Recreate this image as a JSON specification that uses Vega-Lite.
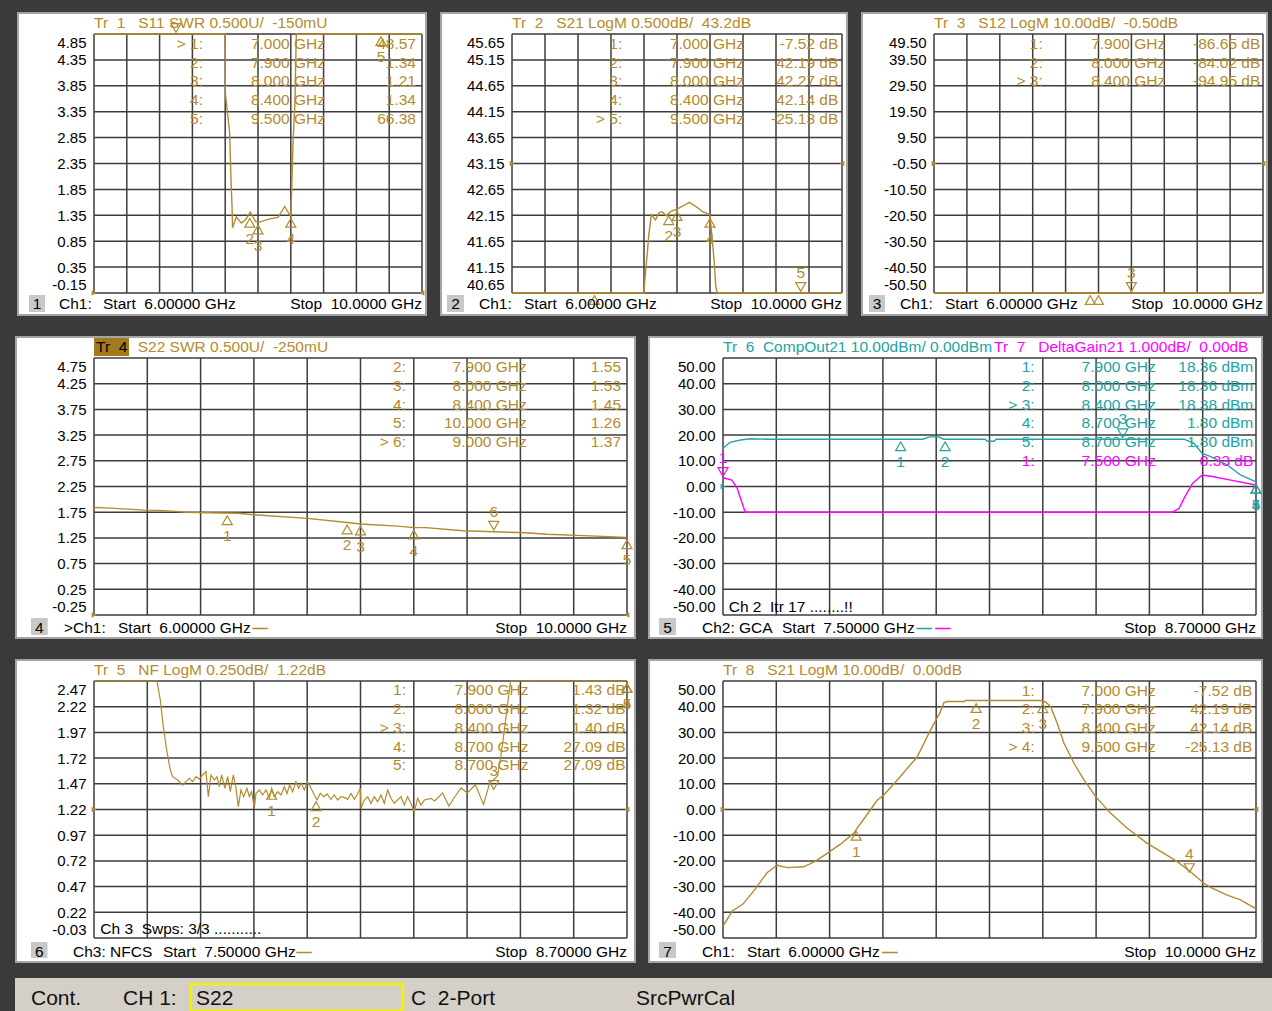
{
"$schema": "https://vega.github.io/schema/vega-lite/v6.json",
"background": "#3a3a3a",
"padding": {"left": 14, "top": 12, "right": 1, "bottom": 0},
"config": {
 "view": {"stroke": null},
 "font": "Liberation Sans",
 "axisX": {"disable": true},
 "axisY": {"grid": false, "ticks": false, "domain": false, "labelFlush": true, "labelFlushOffset": -1, "labelPadding": 8, "labelOverlap": false, "labelFontSize": 15, "labelColor": "#000000", "labelFont": "Liberation Sans"},
 "text": {"font": "Liberation Sans", "fontSize": 15.5, "color": "#000000"},
 "line": {"strokeWidth": 1.4},
 "rule": {"color": "#3d3d3d", "strokeWidth": 1.5}
},
"datasets": {
 "gxw": [{"g":6},{"g":6.4},{"g":6.8},{"g":7.2},{"g":7.6},{"g":8},{"g":8.4},{"g":8.8},{"g":9.2},{"g":9.6},{"g":10}],
 "gxn": [{"g":7.5},{"g":7.62},{"g":7.74},{"g":7.86},{"g":7.98},{"g":8.1},{"g":8.22},{"g":8.34},{"g":8.46},{"g":8.58},{"g":8.7}],
 "gy1": [{"g":-0.15},{"g":0.35},{"g":0.85},{"g":1.35},{"g":1.85},{"g":2.35},{"g":2.85},{"g":3.35},{"g":3.85},{"g":4.35},{"g":4.85}],
 "gy2": [{"g":40.65},{"g":41.15},{"g":41.65},{"g":42.15},{"g":42.65},{"g":43.15},{"g":43.65},{"g":44.15},{"g":44.65},{"g":45.15},{"g":45.65}],
 "gy3": [{"g":-50.5},{"g":-40.5},{"g":-30.5},{"g":-20.5},{"g":-10.5},{"g":-0.5},{"g":9.5},{"g":19.5},{"g":29.5},{"g":39.5},{"g":49.5}],
 "gy4": [{"g":-0.25},{"g":0.25},{"g":0.75},{"g":1.25},{"g":1.75},{"g":2.25},{"g":2.75},{"g":3.25},{"g":3.75},{"g":4.25},{"g":4.75}],
 "gy50": [{"g":-50},{"g":-40},{"g":-30},{"g":-20},{"g":-10},{"g":0},{"g":10},{"g":20},{"g":30},{"g":40},{"g":50}],
 "gy6": [{"g":-0.03},{"g":0.22},{"g":0.47},{"g":0.72},{"g":0.97},{"g":1.22},{"g":1.47},{"g":1.72},{"g":1.97},{"g":2.22},{"g":2.47}],
 "t1": [{"f":6.0,"v":4.85},{"f":7.6,"v":4.85},{"f":7.602,"v":3.71},{"f":7.655,"v":2.93},{"f":7.667,"v":2.22},{"f":7.684,"v":1.49},{"f":7.69,"v":1.11},{"f":7.736,"v":1.32},{"f":7.797,"v":1.2},{"f":7.85,"v":1.27},{"f":7.906,"v":1.41},{"f":7.97,"v":1.23},{"f":8.0,"v":1.21},{"f":8.143,"v":1.28},{"f":8.244,"v":1.31},{"f":8.325,"v":1.52},{"f":8.386,"v":1.36},{"f":8.4,"v":1.34},{"f":8.41,"v":1.81},{"f":8.427,"v":2.74},{"f":8.45,"v":3.51},{"f":8.467,"v":4.83},{"f":8.47,"v":4.85},{"f":10.0,"v":4.85}],
 "t2": [{"f":6.0,"v":40.65},{"f":7.6,"v":40.65},{"f":7.61,"v":40.9},{"f":7.64,"v":41.42},{"f":7.66,"v":41.8},{"f":7.69,"v":42.16},{"f":7.74,"v":42.06},{"f":7.78,"v":42.2},{"f":7.82,"v":42.22},{"f":7.87,"v":42.14},{"f":7.92,"v":42.22},{"f":8.0,"v":42.27},{"f":8.06,"v":42.32},{"f":8.15,"v":42.4},{"f":8.23,"v":42.32},{"f":8.31,"v":42.22},{"f":8.39,"v":42.17},{"f":8.4,"v":42.14},{"f":8.42,"v":41.8},{"f":8.45,"v":41.28},{"f":8.47,"v":40.77},{"f":8.49,"v":40.65},{"f":10.0,"v":40.65}],
 "t3": [{"f":6.0,"v":-50.5},{"f":10.0,"v":-50.5}],
 "t4": [{"f":6.0,"v":1.84},{"f":6.13,"v":1.83},{"f":6.38,"v":1.79},{"f":6.53,"v":1.78},{"f":6.7,"v":1.75},{"f":6.85,"v":1.74},{"f":7.08,"v":1.73},{"f":7.2,"v":1.7},{"f":7.6,"v":1.63},{"f":7.9,"v":1.55},{"f":8.0,"v":1.52},{"f":8.28,"v":1.48},{"f":8.4,"v":1.45},{"f":8.49,"v":1.45},{"f":8.77,"v":1.39},{"f":9.0,"v":1.37},{"f":9.24,"v":1.35},{"f":9.4,"v":1.32},{"f":9.72,"v":1.29},{"f":10.0,"v":1.26}],
 "t5a": [{"f":7.5,"v":14.9},{"f":7.516,"v":17.2},{"f":7.539,"v":18.1},{"f":7.561,"v":18.6},{"f":7.6,"v":18.4},{"f":7.95,"v":18.4},{"f":7.965,"v":19.3},{"f":7.985,"v":19.3},{"f":7.997,"v":18.4},{"f":8.09,"v":18.4},{"f":8.095,"v":17.6},{"f":8.11,"v":17.6},{"f":8.115,"v":18.4},{"f":8.538,"v":18.4},{"f":8.56,"v":16.8},{"f":8.579,"v":12.9},{"f":8.598,"v":11.6},{"f":8.635,"v":8.4},{"f":8.665,"v":4.5},{"f":8.7,"v":1.8}],
 "t5b": [{"f":7.5,"v":3.4},{"f":7.52,"v":2.5},{"f":7.532,"v":-0.7},{"f":7.55,"v":-10},{"f":8.512,"v":-10},{"f":8.527,"v":-8.5},{"f":8.538,"v":-4.6},{"f":8.557,"v":1.2},{"f":8.579,"v":4.5},{"f":8.605,"v":3.8},{"f":8.643,"v":2.5},{"f":8.7,"v":0.6}],
 "t6": [{"f":7.5,"v":2.47},{"f":7.6418,"v":2.47},{"f":7.6493,"v":2.285},{"f":7.6561,"v":2.026},{"f":7.6636,"v":1.799},{"f":7.6718,"v":1.604},{"f":7.6771,"v":1.539},{"f":7.6884,"v":1.507},{"f":7.6996,"v":1.458},{"f":7.7071,"v":1.491},{"f":7.7146,"v":1.523},{"f":7.7221,"v":1.491},{"f":7.7296,"v":1.539},{"f":7.7371,"v":1.514},{"f":7.7446,"v":1.556},{"f":7.7521,"v":1.588},{"f":7.7574,"v":1.345},{"f":7.7634,"v":1.556},{"f":7.7709,"v":1.507},{"f":7.7769,"v":1.539},{"f":7.7822,"v":1.442},{"f":7.7874,"v":1.556},{"f":7.7949,"v":1.426},{"f":7.8009,"v":1.539},{"f":7.8069,"v":1.393},{"f":7.8137,"v":1.556},{"f":7.8197,"v":1.426},{"f":7.8249,"v":1.248},{"f":7.8309,"v":1.41},{"f":7.8369,"v":1.345},{"f":7.8444,"v":1.426},{"f":7.8497,"v":1.345},{"f":7.8549,"v":1.393},{"f":7.8609,"v":1.231},{"f":7.8647,"v":1.377},{"f":7.8722,"v":1.41},{"f":7.8797,"v":1.361},{"f":7.8872,"v":1.41},{"f":7.8947,"v":1.329},{"f":7.9,"v":1.426},{"f":7.906,"v":1.345},{"f":7.9135,"v":1.393},{"f":7.921,"v":1.361},{"f":7.9285,"v":1.442},{"f":7.9345,"v":1.377},{"f":7.9405,"v":1.458},{"f":7.9472,"v":1.393},{"f":7.9547,"v":1.491},{"f":7.9607,"v":1.426},{"f":7.966,"v":1.475},{"f":7.9735,"v":1.41},{"f":7.981,"v":1.491},{"f":7.9885,"v":1.426},{"f":7.996,"v":1.361},{"f":8.002,"v":1.312},{"f":8.0095,"v":1.377},{"f":8.017,"v":1.345},{"f":8.0245,"v":1.371},{"f":8.0335,"v":1.319},{"f":8.041,"v":1.361},{"f":8.0486,"v":1.312},{"f":8.0561,"v":1.345},{"f":8.0636,"v":1.338},{"f":8.0711,"v":1.319},{"f":8.0786,"v":1.377},{"f":8.0861,"v":1.319},{"f":8.0921,"v":1.361},{"f":8.0996,"v":1.426},{"f":8.1011,"v":1.231},{"f":8.1086,"v":1.312},{"f":8.1161,"v":1.345},{"f":8.1236,"v":1.28},{"f":8.1311,"v":1.345},{"f":8.1386,"v":1.296},{"f":8.1461,"v":1.361},{"f":8.1536,"v":1.28},{"f":8.1611,"v":1.41},{"f":8.1686,"v":1.329},{"f":8.1761,"v":1.28},{"f":8.1836,"v":1.312},{"f":8.1911,"v":1.345},{"f":8.1986,"v":1.264},{"f":8.2061,"v":1.345},{"f":8.2136,"v":1.28},{"f":8.2211,"v":1.199},{"f":8.2287,"v":1.329},{"f":8.2362,"v":1.264},{"f":8.2437,"v":1.312},{"f":8.2587,"v":1.329},{"f":8.2666,"v":1.303},{"f":8.285,"v":1.381},{"f":8.299,"v":1.253},{"f":8.313,"v":1.349},{"f":8.3265,"v":1.43},{"f":8.3404,"v":1.381},{"f":8.3587,"v":1.46},{"f":8.377,"v":1.27},{"f":8.391,"v":1.48},{"f":8.4,"v":1.51},{"f":8.409,"v":1.55},{"f":8.418,"v":1.8},{"f":8.428,"v":2.13},{"f":8.437,"v":2.45},{"f":8.439,"v":2.47},{"f":8.7,"v":2.47}],
 "t7": [{"f":6.0,"v":-45.4},{"f":6.07,"v":-39.5},{"f":6.148,"v":-36.9},{"f":6.24,"v":-31.1},{"f":6.33,"v":-24.6},{"f":6.407,"v":-21.7},{"f":6.483,"v":-22.6},{"f":6.606,"v":-22.3},{"f":6.698,"v":-20.0},{"f":6.79,"v":-16.8},{"f":6.881,"v":-13.5},{"f":6.98,"v":-9.3},{"f":7.003,"v":-7.5},{"f":7.11,"v":0.1},{"f":7.158,"v":3.7},{"f":7.2,"v":5.3},{"f":7.308,"v":11.5},{"f":7.458,"v":20.5},{"f":7.553,"v":30.5},{"f":7.63,"v":37.9},{"f":7.659,"v":41.6},{"f":7.683,"v":42.0},{"f":7.81,"v":42.0},{"f":7.82,"v":42.4},{"f":8.39,"v":42.4},{"f":8.421,"v":41.9},{"f":8.459,"v":40.0},{"f":8.509,"v":33.5},{"f":8.559,"v":25.8},{"f":8.634,"v":18.0},{"f":8.709,"v":11.5},{"f":8.797,"v":5.0},{"f":8.91,"v":-1.5},{"f":9.034,"v":-7.3},{"f":9.184,"v":-13.2},{"f":9.309,"v":-17.1},{"f":9.409,"v":-20.3},{"f":9.509,"v":-24.2},{"f":9.609,"v":-28.7},{"f":9.659,"v":-30.3},{"f":9.784,"v":-33.3},{"f":9.884,"v":-35.2},{"f":9.99,"v":-38.4},{"f":10.0,"v":-38.8}],
 "r1": [{"f":6,"v":-0.15,"s":"L"},{"f":10,"v":-0.15,"s":"R"}],
 "r2": [{"f":6,"v":43.15,"s":"L"},{"f":10,"v":43.15,"s":"R"}],
 "r3": [{"f":6,"v":-0.5,"s":"L"},{"f":10,"v":-0.5,"s":"R"}],
 "r4": [{"f":6,"v":-0.25,"s":"L"},{"f":10,"v":-0.25,"s":"R"}],
 "r5": [{"f":7.5,"v":0,"s":"L"}],
 "r6": [{"f":7.5,"v":1.22,"s":"L"},{"f":8.7,"v":1.22,"s":"R"}],
 "r7": [{"f":6,"v":0,"s":"L"},{"f":10,"v":0,"s":"R"}],
 "m1": [{"f":7.0,"v":4.85,"n":"","d":"d"},{"f":7.9,"v":1.34,"n":"2","d":"u"},{"f":8.0,"v":1.21,"n":"3","d":"u"},{"f":8.4,"v":1.34,"n":"4","d":"u"},{"f":9.5,"v":4.85,"n":"5","d":"u"}],
 "m2": [{"f":7.0,"v":40.65,"n":"","d":"u"},{"f":7.9,"v":42.19,"n":"2","d":"u"},{"f":8.0,"v":42.27,"n":"3","d":"u"},{"f":8.4,"v":42.14,"n":"4","d":"u"},{"f":9.5,"v":40.65,"n":"5","d":"d"}],
 "m3": [{"f":7.9,"v":-50.5,"n":"","d":"u"},{"f":8.0,"v":-50.5,"n":"","d":"u"},{"f":8.4,"v":-50.5,"n":"3","d":"d"}],
 "m4": [{"f":7.0,"v":1.73,"n":"1","d":"u"},{"f":7.9,"v":1.55,"n":"2","d":"u"},{"f":8.0,"v":1.53,"n":"3","d":"u"},{"f":8.4,"v":1.45,"n":"4","d":"u"},{"f":10.0,"v":1.26,"n":"5","d":"u"},{"f":9.0,"v":1.37,"n":"6","d":"d"}],
 "m5": [{"f":7.9,"v":18.36,"n":"1","d":"u"},{"f":8.0,"v":18.36,"n":"2","d":"u"},{"f":8.4,"v":18.38,"n":"3","d":"d"},{"f":8.7,"v":1.8,"n":"4","d":"u"},{"f":8.7,"v":1.8,"n":"5","d":"u"}],
 "m5b": [{"f":7.5,"v":3.3,"n":"1","d":"d"}],
 "m6": [{"f":7.9,"v":1.43,"n":"1","d":"u"},{"f":8.0,"v":1.32,"n":"2","d":"u"},{"f":8.4,"v":1.4,"n":"3","d":"d"},{"f":8.7,"v":2.47,"n":"4","d":"u"},{"f":8.7,"v":2.47,"n":"5","d":"u"}],
 "m7": [{"f":7.0,"v":-7.52,"n":"1","d":"u"},{"f":7.9,"v":42.19,"n":"2","d":"u"},{"f":8.4,"v":42.14,"n":"3","d":"u"},{"f":9.5,"v":-25.13,"n":"4","d":"d"}],
 "tb1": [{"c1":"> 1:\n2:\n3:\n4:\n5:","c2":"7.000 GHz\n7.900 GHz\n8.000 GHz\n8.400 GHz\n9.500 GHz","c3":"48.57\n1.34\n1.21\n1.34\n66.38"}],
 "tb2": [{"c1":"1:\n2:\n3:\n4:\n> 5:","c2":"7.000 GHz\n7.900 GHz\n8.000 GHz\n8.400 GHz\n9.500 GHz","c3":"-7.52 dB\n42.19 dB\n42.27 dB\n42.14 dB\n-25.13 dB"}],
 "tb3": [{"c1":"1:\n2:\n> 3:","c2":"7.900 GHz\n8.000 GHz\n8.400 GHz","c3":"-86.65 dB\n-84.02 dB\n-94.95 dB"}],
 "tb4": [{"c1":"2:\n3:\n4:\n5:\n> 6:","c2":"7.900 GHz\n8.000 GHz\n8.400 GHz\n10.000 GHz\n9.000 GHz","c3":"1.55\n1.53\n1.45\n1.26\n1.37"}],
 "tb5a": [{"c1":"1:\n2:\n> 3:\n4:\n5:","c2":"7.900 GHz\n8.000 GHz\n8.400 GHz\n8.700 GHz\n8.700 GHz","c3":"18.36 dBm\n18.36 dBm\n18.38 dBm\n1.80 dBm\n1.80 dBm"}],
 "tb5b": [{"c1":"1:","c2":"7.500 GHz","c3":"0.33 dB"}],
 "tb6": [{"c1":"1:\n2:\n> 3:\n4:\n5:","c2":"7.900 GHz\n8.000 GHz\n8.400 GHz\n8.700 GHz\n8.700 GHz","c3":"1.43 dB\n1.32 dB\n1.40 dB\n27.09 dB\n27.09 dB"}],
 "tb7": [{"c1":"1:\n2:\n3:\n> 4:","c2":"7.000 GHz\n7.900 GHz\n8.400 GHz\n9.500 GHz","c3":"-7.52 dB\n42.19 dB\n42.14 dB\n-25.13 dB"}],
 "i1": [{"title":"Tr\u00a0 1\u00a0\u00a0 S11 SWR 0.500U/\u00a0 -150mU","badge":"1","ch":"Ch1:","start":"Start\u00a0 6.00000 GHz","stop":"Stop\u00a0 10.0000 GHz"}],
 "i2": [{"title":"Tr\u00a0 2\u00a0\u00a0 S21 LogM 0.500dB/\u00a0 43.2dB","badge":"2","ch":"Ch1:","start":"Start\u00a0 6.00000 GHz","stop":"Stop\u00a0 10.0000 GHz"}],
 "i3": [{"title":"Tr\u00a0 3\u00a0\u00a0 S12 LogM 10.00dB/\u00a0 -0.50dB","badge":"3","ch":"Ch1:","start":"Start\u00a0 6.00000 GHz","stop":"Stop\u00a0 10.0000 GHz"}],
 "i4": [{"tr":"Tr\u00a0 4","title":"S22 SWR 0.500U/\u00a0 -250mU","badge":"4","ch":">Ch1:","start":"Start\u00a0 6.00000 GHz","dash":"\u2014","stop":"Stop\u00a0 10.0000 GHz"}],
 "i5": [{"title":"Tr\u00a0 6\u00a0 CompOut21 10.00dBm/ 0.00dBm","title2":"Tr\u00a0 7\u00a0\u00a0 DeltaGain21 1.000dB/\u00a0 0.00dB","badge":"5","ch":"Ch2: GCA","start":"Start\u00a0 7.50000 GHz","dash":"\u2014","stop":"Stop\u00a0 8.70000 GHz","note":"Ch 2\u00a0 Itr 17 ........!!"}],
 "i6": [{"title":"Tr\u00a0 5\u00a0\u00a0 NF LogM 0.250dB/\u00a0 1.22dB","badge":"6","ch":"Ch3: NFCS","start":"Start\u00a0 7.50000 GHz","dash":"\u2014","stop":"Stop\u00a0 8.70000 GHz","note":"Ch 3\u00a0 Swps: 3/3 ..........."}],
 "i7": [{"title":"Tr\u00a0 8\u00a0\u00a0 S21 LogM 10.00dB/\u00a0 0.00dB","badge":"7","ch":"Ch1:","start":"Start\u00a0 6.00000 GHz","dash":"\u2014","stop":"Stop\u00a0 10.0000 GHz"}],
 "st": [{"a":"Cont.","b":"CH 1:","c":"S22","d":"C\u00a0 2-Port","e":"SrcPwrCal"}]
},
"spacing": 20,
"vconcat": [
{"spacing": 11, "hconcat": [
 {"width": 328, "height": 259, "layer": [
  {"data":{"values":[{}]},"mark":{"type":"rect","color":"#ffffff","stroke":"#a4a4a4","strokeWidth":2},"encoding":{"x":{"datum":5.0732,"type":"quantitative","scale":{"domain":[6,10],"nice":false,"zero":false}},"x2":{"datum":10.0488},"y":{"datum":5.2554,"type":"quantitative","scale":{"domain":[-0.15,4.85],"nice":false,"zero":false},"axis":{"title":null,"zindex":1,"tickCount":30,"labelOverlap":false,"values":[-0.15,0.35,0.85,1.35,1.85,2.35,2.85,3.35,3.85,4.35,4.85],"labelExpr":"replace(format(datum.value,'.2f'),'\u2212','-')"}},"y2":{"datum":-0.5747}}},
  {"data":{"name":"gxw"},"mark":"rule","encoding":{"x":{"field":"g","type":"quantitative","title":null}}},
  {"data":{"name":"gy1"},"mark":"rule","encoding":{"y":{"field":"g","type":"quantitative","title":null}}},
  {"data":{"name":"t1"},"mark":{"type":"line","color":"#b38b2d"},"encoding":{"x":{"field":"f","type":"quantitative","title":null},"y":{"field":"v","type":"quantitative","title":null}}},
  {"data":{"name":"r1"},"mark":{"type":"point","filled":true,"size":30,"opacity":1,"color":"#b38b2d"},"encoding":{"x":{"field":"f","type":"quantitative","title":null},"y":{"field":"v","type":"quantitative","title":null},"shape":{"field":"s","type":"nominal","scale":{"domain":["L","R"],"range":["triangle-right","triangle-left"]},"legend":null}}},
  {"data":{"name":"m1"},"transform":[{"filter":"datum.d == 'u'"}],"mark":{"type":"point","shape":"triangle-up","filled":false,"size":100,"strokeWidth":1.2,"opacity":1,"color":"#b38b2d","yOffset":7},"encoding":{"x":{"field":"f","type":"quantitative","title":null},"y":{"field":"v","type":"quantitative","title":null}}},
  {"data":{"name":"m1"},"transform":[{"filter":"datum.d == 'd'"}],"mark":{"type":"point","shape":"triangle-down","filled":false,"size":100,"strokeWidth":1.2,"opacity":1,"color":"#b38b2d","yOffset":-6},"encoding":{"x":{"field":"f","type":"quantitative","title":null},"y":{"field":"v","type":"quantitative","title":null}}},
  {"data":{"name":"m1"},"transform":[{"filter":"datum.d == 'u' && datum.n != ''"}],"mark":{"type":"text","color":"#b38b2d","dy":23},"encoding":{"x":{"field":"f","type":"quantitative","title":null},"y":{"field":"v","type":"quantitative","title":null},"text":{"field":"n"}}},
  {"data":{"name":"tb1"},"mark":{"type":"text","color":"#b38b2d","align":"right","baseline":"top","lineBreak":"\n","lineHeight":18.75},"encoding":{"x":{"datum":7.3293},"y":{"datum":4.796},"text":{"field":"c1"}}},
  {"data":{"name":"tb1"},"mark":{"type":"text","color":"#b38b2d","align":"right","baseline":"top","lineBreak":"\n","lineHeight":18.75},"encoding":{"x":{"datum":8.8171},"y":{"datum":4.796},"text":{"field":"c2"}}},
  {"data":{"name":"tb1"},"mark":{"type":"text","color":"#b38b2d","align":"right","baseline":"top","lineBreak":"\n","lineHeight":18.75},"encoding":{"x":{"datum":9.9268},"y":{"datum":4.796},"text":{"field":"c3"}}},
  {"data":{"name":"i1"},"mark":{"type":"text","color":"#b38b2d","align":"left","baseline":"middle"},"encoding":{"x":{"datum":6},"y":{"datum":5.0624},"text":{"field":"title"}}},
  {"data":{"values":[{}]},"mark":{"type":"rect","color":"#c8c8c8"},"encoding":{"x":{"datum":5.2073},"x2":{"datum":5.4024},"y":{"datum":-0.1886},"y2":{"datum":-0.5168}}},
  {"data":{"name":"i1"},"mark":{"type":"text","align":"center","baseline":"middle"},"encoding":{"x":{"datum":5.3049},"y":{"datum":-0.3624},"text":{"field":"badge"}}},
  {"data":{"name":"i1"},"mark":{"type":"text","align":"left","baseline":"middle"},"encoding":{"x":{"datum":5.5732},"y":{"datum":-0.3624},"text":{"field":"ch"}}},
  {"data":{"name":"i1"},"mark":{"type":"text","align":"left","baseline":"middle"},"encoding":{"x":{"datum":6.1098},"y":{"datum":-0.3624},"text":{"field":"start"}}},
  {"data":{"name":"i1"},"mark":{"type":"text","align":"right","baseline":"middle"},"encoding":{"x":{"datum":10},"y":{"datum":-0.3624},"text":{"field":"stop"}}}
 ]},
 {"width": 330, "height": 259, "layer": [
  {"data":{"values":[{}]},"mark":{"type":"rect","color":"#ffffff","stroke":"#a4a4a4","strokeWidth":2},"encoding":{"x":{"datum":5.13939,"type":"quantitative","scale":{"domain":[6,10],"nice":false,"zero":false}},"x2":{"datum":10.06061},"y":{"datum":46.0554,"type":"quantitative","scale":{"domain":[40.65,45.65],"nice":false,"zero":false},"axis":{"title":null,"zindex":1,"tickCount":30,"labelOverlap":false,"values":[40.65,41.15,41.65,42.15,42.65,43.15,43.65,44.15,44.65,45.15,45.65],"labelExpr":"replace(format(datum.value,'.2f'),'\u2212','-')"}},"y2":{"datum":40.2253}}},
  {"data":{"name":"gxw"},"mark":"rule","encoding":{"x":{"field":"g","type":"quantitative","title":null}}},
  {"data":{"name":"gy2"},"mark":"rule","encoding":{"y":{"field":"g","type":"quantitative","title":null}}},
  {"data":{"name":"t2"},"mark":{"type":"line","color":"#b38b2d"},"encoding":{"x":{"field":"f","type":"quantitative","title":null},"y":{"field":"v","type":"quantitative","title":null}}},
  {"data":{"name":"r2"},"mark":{"type":"point","filled":true,"size":30,"opacity":1,"color":"#b38b2d"},"encoding":{"x":{"field":"f","type":"quantitative","title":null},"y":{"field":"v","type":"quantitative","title":null},"shape":{"field":"s","type":"nominal","scale":{"domain":["L","R"],"range":["triangle-right","triangle-left"]},"legend":null}}},
  {"data":{"name":"m2"},"transform":[{"filter":"datum.d == 'u'"}],"mark":{"type":"point","shape":"triangle-up","filled":false,"size":100,"strokeWidth":1.2,"opacity":1,"color":"#b38b2d","yOffset":7},"encoding":{"x":{"field":"f","type":"quantitative","title":null},"y":{"field":"v","type":"quantitative","title":null}}},
  {"data":{"name":"m2"},"transform":[{"filter":"datum.d == 'd'"}],"mark":{"type":"point","shape":"triangle-down","filled":false,"size":100,"strokeWidth":1.2,"opacity":1,"color":"#b38b2d","yOffset":-6},"encoding":{"x":{"field":"f","type":"quantitative","title":null},"y":{"field":"v","type":"quantitative","title":null}}},
  {"data":{"name":"m2"},"transform":[{"filter":"datum.d == 'u' && datum.n != ''"}],"mark":{"type":"text","color":"#b38b2d","dy":23},"encoding":{"x":{"field":"f","type":"quantitative","title":null},"y":{"field":"v","type":"quantitative","title":null},"text":{"field":"n"}}},
  {"data":{"name":"m2"},"transform":[{"filter":"datum.d == 'd' && datum.n != ''"}],"mark":{"type":"text","color":"#b38b2d","dy":-20},"encoding":{"x":{"field":"f","type":"quantitative","title":null},"y":{"field":"v","type":"quantitative","title":null},"text":{"field":"n"}}},
  {"data":{"name":"tb2"},"mark":{"type":"text","color":"#b38b2d","align":"right","baseline":"top","lineBreak":"\n","lineHeight":18.75},"encoding":{"x":{"datum":7.337},"y":{"datum":45.596},"text":{"field":"c1"}}},
  {"data":{"name":"tb2"},"mark":{"type":"text","color":"#b38b2d","align":"right","baseline":"top","lineBreak":"\n","lineHeight":18.75},"encoding":{"x":{"datum":8.8121},"y":{"datum":45.596},"text":{"field":"c2"}}},
  {"data":{"name":"tb2"},"mark":{"type":"text","color":"#b38b2d","align":"right","baseline":"top","lineBreak":"\n","lineHeight":18.75},"encoding":{"x":{"datum":9.9552},"y":{"datum":45.596},"text":{"field":"c3"}}},
  {"data":{"name":"i2"},"mark":{"type":"text","color":"#b38b2d","align":"left","baseline":"middle"},"encoding":{"x":{"datum":6},"y":{"datum":45.8624},"text":{"field":"title"}}},
  {"data":{"values":[{}]},"mark":{"type":"rect","color":"#c8c8c8"},"encoding":{"x":{"datum":5.2121},"x2":{"datum":5.4182},"y":{"datum":40.6114},"y2":{"datum":40.2832}}},
  {"data":{"name":"i2"},"mark":{"type":"text","align":"center","baseline":"middle"},"encoding":{"x":{"datum":5.3152},"y":{"datum":40.4376},"text":{"field":"badge"}}},
  {"data":{"name":"i2"},"mark":{"type":"text","align":"left","baseline":"middle"},"encoding":{"x":{"datum":5.6},"y":{"datum":40.4376},"text":{"field":"ch"}}},
  {"data":{"name":"i2"},"mark":{"type":"text","align":"left","baseline":"middle"},"encoding":{"x":{"datum":6.1455},"y":{"datum":40.4376},"text":{"field":"start"}}},
  {"data":{"name":"i2"},"mark":{"type":"text","align":"right","baseline":"middle"},"encoding":{"x":{"datum":10},"y":{"datum":40.4376},"text":{"field":"stop"}}}
 ]},
 {"width": 329, "height": 259, "layer": [
  {"data":{"values":[{}]},"mark":{"type":"rect","color":"#ffffff","stroke":"#a4a4a4","strokeWidth":2},"encoding":{"x":{"datum":5.12462,"type":"quantitative","scale":{"domain":[6,10],"nice":false,"zero":false}},"x2":{"datum":10.04863},"y":{"datum":57.608,"type":"quantitative","scale":{"domain":[-50.5,49.5],"nice":false,"zero":false},"axis":{"title":null,"zindex":1,"tickCount":30,"labelOverlap":false,"values":[-50.5,-40.5,-30.5,-20.5,-10.5,-0.5,9.5,19.5,29.5,39.5,49.5],"labelExpr":"replace(format(datum.value,'.2f'),'\u2212','-')"}},"y2":{"datum":-58.994}}},
  {"data":{"name":"gxw"},"mark":"rule","encoding":{"x":{"field":"g","type":"quantitative","title":null}}},
  {"data":{"name":"gy3"},"mark":"rule","encoding":{"y":{"field":"g","type":"quantitative","title":null}}},
  {"data":{"name":"t3"},"mark":{"type":"line","color":"#b38b2d"},"encoding":{"x":{"field":"f","type":"quantitative","title":null},"y":{"field":"v","type":"quantitative","title":null}}},
  {"data":{"name":"r3"},"mark":{"type":"point","filled":true,"size":30,"opacity":1,"color":"#b38b2d"},"encoding":{"x":{"field":"f","type":"quantitative","title":null},"y":{"field":"v","type":"quantitative","title":null},"shape":{"field":"s","type":"nominal","scale":{"domain":["L","R"],"range":["triangle-right","triangle-left"]},"legend":null}}},
  {"data":{"name":"m3"},"transform":[{"filter":"datum.d == 'u'"}],"mark":{"type":"point","shape":"triangle-up","filled":false,"size":100,"strokeWidth":1.2,"opacity":1,"color":"#b38b2d","yOffset":7},"encoding":{"x":{"field":"f","type":"quantitative","title":null},"y":{"field":"v","type":"quantitative","title":null}}},
  {"data":{"name":"m3"},"transform":[{"filter":"datum.d == 'd'"}],"mark":{"type":"point","shape":"triangle-down","filled":false,"size":100,"strokeWidth":1.2,"opacity":1,"color":"#b38b2d","yOffset":-6},"encoding":{"x":{"field":"f","type":"quantitative","title":null},"y":{"field":"v","type":"quantitative","title":null}}},
  {"data":{"name":"m3"},"transform":[{"filter":"datum.d == 'd' && datum.n != ''"}],"mark":{"type":"text","color":"#b38b2d","dy":-20},"encoding":{"x":{"field":"f","type":"quantitative","title":null},"y":{"field":"v","type":"quantitative","title":null},"text":{"field":"n"}}},
  {"data":{"name":"tb3"},"mark":{"type":"text","color":"#b38b2d","align":"right","baseline":"top","lineBreak":"\n","lineHeight":18.75},"encoding":{"x":{"datum":7.3216},"y":{"datum":48.419},"text":{"field":"c1"}}},
  {"data":{"name":"tb3"},"mark":{"type":"text","color":"#b38b2d","align":"right","baseline":"top","lineBreak":"\n","lineHeight":18.75},"encoding":{"x":{"datum":8.8122},"y":{"datum":48.419},"text":{"field":"c2"}}},
  {"data":{"name":"tb3"},"mark":{"type":"text","color":"#b38b2d","align":"right","baseline":"top","lineBreak":"\n","lineHeight":18.75},"encoding":{"x":{"datum":9.9672},"y":{"datum":48.419},"text":{"field":"c3"}}},
  {"data":{"name":"i3"},"mark":{"type":"text","color":"#b38b2d","align":"left","baseline":"middle"},"encoding":{"x":{"datum":6},"y":{"datum":53.747},"text":{"field":"title"}}},
  {"data":{"values":[{}]},"mark":{"type":"rect","color":"#c8c8c8"},"encoding":{"x":{"datum":5.2097},"x2":{"datum":5.4043},"y":{"datum":-51.272},"y2":{"datum":-57.836}}},
  {"data":{"name":"i3"},"mark":{"type":"text","align":"center","baseline":"middle"},"encoding":{"x":{"datum":5.307},"y":{"datum":-54.747},"text":{"field":"badge"}}},
  {"data":{"name":"i3"},"mark":{"type":"text","align":"left","baseline":"middle"},"encoding":{"x":{"datum":5.5866},"y":{"datum":-54.747},"text":{"field":"ch"}}},
  {"data":{"name":"i3"},"mark":{"type":"text","align":"left","baseline":"middle"},"encoding":{"x":{"datum":6.1337},"y":{"datum":-54.747},"text":{"field":"start"}}},
  {"data":{"name":"i3"},"mark":{"type":"text","align":"right","baseline":"middle"},"encoding":{"x":{"datum":10},"y":{"datum":-54.747},"text":{"field":"stop"}}}
 ]}
]},
{"spacing": 11, "hconcat": [
 {"width": 533, "height": 257, "layer": [
  {"data":{"values":[{}]},"mark":{"type":"rect","color":"#ffffff","stroke":"#a4a4a4","strokeWidth":2},"encoding":{"x":{"datum":5.41463,"type":"quantitative","scale":{"domain":[6,10],"nice":false,"zero":false}},"x2":{"datum":10.06004},"y":{"datum":5.15856,"type":"quantitative","scale":{"domain":[-0.25,4.75],"nice":false,"zero":false},"axis":{"title":null,"zindex":1,"tickCount":30,"labelOverlap":false,"values":[-0.25,0.25,0.75,1.25,1.75,2.25,2.75,3.25,3.75,4.25,4.75],"labelExpr":"replace(format(datum.value,'.2f'),'\u2212','-')"}},"y2":{"datum":-0.69747}}},
  {"data":{"name":"gxw"},"mark":"rule","encoding":{"x":{"field":"g","type":"quantitative","title":null}}},
  {"data":{"name":"gy4"},"mark":"rule","encoding":{"y":{"field":"g","type":"quantitative","title":null}}},
  {"data":{"name":"t4"},"mark":{"type":"line","color":"#b38b2d"},"encoding":{"x":{"field":"f","type":"quantitative","title":null},"y":{"field":"v","type":"quantitative","title":null}}},
  {"data":{"name":"r4"},"mark":{"type":"point","filled":true,"size":30,"opacity":1,"color":"#b38b2d"},"encoding":{"x":{"field":"f","type":"quantitative","title":null},"y":{"field":"v","type":"quantitative","title":null},"shape":{"field":"s","type":"nominal","scale":{"domain":["L","R"],"range":["triangle-right","triangle-left"]},"legend":null}}},
  {"data":{"name":"m4"},"transform":[{"filter":"datum.d == 'u'"}],"mark":{"type":"point","shape":"triangle-up","filled":false,"size":100,"strokeWidth":1.2,"opacity":1,"color":"#b38b2d","yOffset":7},"encoding":{"x":{"field":"f","type":"quantitative","title":null},"y":{"field":"v","type":"quantitative","title":null}}},
  {"data":{"name":"m4"},"transform":[{"filter":"datum.d == 'd'"}],"mark":{"type":"point","shape":"triangle-down","filled":false,"size":100,"strokeWidth":1.2,"opacity":1,"color":"#b38b2d","yOffset":-6},"encoding":{"x":{"field":"f","type":"quantitative","title":null},"y":{"field":"v","type":"quantitative","title":null}}},
  {"data":{"name":"m4"},"transform":[{"filter":"datum.d == 'u' && datum.n != ''"}],"mark":{"type":"text","color":"#b38b2d","dy":23},"encoding":{"x":{"field":"f","type":"quantitative","title":null},"y":{"field":"v","type":"quantitative","title":null},"text":{"field":"n"}}},
  {"data":{"name":"m4"},"transform":[{"filter":"datum.d == 'd' && datum.n != ''"}],"mark":{"type":"text","color":"#b38b2d","dy":-20},"encoding":{"x":{"field":"f","type":"quantitative","title":null},"y":{"field":"v","type":"quantitative","title":null},"text":{"field":"n"}}},
  {"data":{"name":"tb4"},"mark":{"type":"text","color":"#b38b2d","align":"right","baseline":"top","lineBreak":"\n","lineHeight":18.75},"encoding":{"x":{"datum":8.3415},"y":{"datum":4.7072},"text":{"field":"c1"}}},
  {"data":{"name":"tb4"},"mark":{"type":"text","color":"#b38b2d","align":"right","baseline":"top","lineBreak":"\n","lineHeight":18.75},"encoding":{"x":{"datum":9.2473},"y":{"datum":4.7072},"text":{"field":"c2"}}},
  {"data":{"name":"tb4"},"mark":{"type":"text","color":"#b38b2d","align":"right","baseline":"top","lineBreak":"\n","lineHeight":18.75},"encoding":{"x":{"datum":9.955},"y":{"datum":4.7072},"text":{"field":"c3"}}},
  {"data":{"values":[{}]},"mark":{"type":"rect","color":"#a37a1c"},"encoding":{"x":{"datum":6},"x2":{"datum":6.2627},"y":{"datum":5.1391},"y2":{"datum":4.7889}}},
  {"data":{"name":"i4"},"mark":{"type":"text","color":"#000000","align":"left","baseline":"middle"},"encoding":{"x":{"datum":6.015},"y":{"datum":4.964},"text":{"field":"tr"}}},
  {"data":{"name":"i4"},"mark":{"type":"text","color":"#b38b2d","align":"left","baseline":"middle"},"encoding":{"x":{"datum":6.328},"y":{"datum":4.964},"text":{"field":"title"}}},
  {"data":{"values":[{}]},"mark":{"type":"rect","color":"#c8c8c8"},"encoding":{"x":{"datum":5.5272},"x2":{"datum":5.6525},"y":{"datum":-0.3083},"y2":{"datum":-0.6391}}},
  {"data":{"name":"i4"},"mark":{"type":"text","align":"center","baseline":"middle"},"encoding":{"x":{"datum":5.5895},"y":{"datum":-0.5088},"text":{"field":"badge"}}},
  {"data":{"name":"i4"},"mark":{"type":"text","align":"left","baseline":"middle"},"encoding":{"x":{"datum":5.7749},"y":{"datum":-0.5088},"text":{"field":"ch"}}},
  {"data":{"name":"i4"},"mark":{"type":"text","align":"left","baseline":"middle"},"encoding":{"x":{"datum":6.1801},"y":{"datum":-0.5088},"text":{"field":"start"}}},
  {"data":{"name":"i4"},"mark":{"type":"text","align":"center","baseline":"middle","color":"#b38b2d","fontWeight":"bold"},"encoding":{"x":{"datum":7.2458},"y":{"datum":-0.5088},"text":{"field":"dash"}}},
  {"data":{"name":"i4"},"mark":{"type":"text","align":"right","baseline":"middle"},"encoding":{"x":{"datum":10},"y":{"datum":-0.5088},"text":{"field":"stop"}}}
 ]},
 {"width": 533, "height": 257, "layer": [
  {"data":{"values":[{}]},"mark":{"type":"rect","color":"#ffffff","stroke":"#a4a4a4","strokeWidth":2},"encoding":{"x":{"datum":7.3334,"type":"quantitative","scale":{"domain":[7.5,8.7],"nice":false,"zero":false}},"x2":{"datum":8.71351},"y":{"datum":58.1712,"type":"quantitative","scale":{"domain":[-50,50],"nice":false,"zero":false},"axis":{"title":null,"zindex":1,"tickCount":30,"labelOverlap":false,"values":[-50,-40,-30,-20,-10,0,10,20,30,40,50],"labelExpr":"replace(format(datum.value,'.2f'),'\u2212','-')"}},"y2":{"datum":-58.949}}},
  {"data":{"name":"gxn"},"mark":"rule","encoding":{"x":{"field":"g","type":"quantitative","title":null}}},
  {"data":{"name":"gy50"},"mark":"rule","encoding":{"y":{"field":"g","type":"quantitative","title":null}}},
  {"data":{"name":"t5a"},"mark":{"type":"line","color":"#23a3a3"},"encoding":{"x":{"field":"f","type":"quantitative","title":null},"y":{"field":"v","type":"quantitative","title":null}}},
  {"data":{"name":"t5b"},"mark":{"type":"line","color":"#ff00ff"},"encoding":{"x":{"field":"f","type":"quantitative","title":null},"y":{"field":"v","type":"quantitative","title":null}}},
  {"data":{"name":"r5"},"mark":{"type":"point","filled":true,"size":30,"opacity":1,"color":"#23a3a3"},"encoding":{"x":{"field":"f","type":"quantitative","title":null},"y":{"field":"v","type":"quantitative","title":null},"shape":{"field":"s","type":"nominal","scale":{"domain":["L","R"],"range":["triangle-right","triangle-left"]},"legend":null}}},
  {"data":{"name":"m5"},"transform":[{"filter":"datum.d == 'u'"}],"mark":{"type":"point","shape":"triangle-up","filled":false,"size":100,"strokeWidth":1.2,"opacity":1,"color":"#23a3a3","yOffset":7},"encoding":{"x":{"field":"f","type":"quantitative","title":null},"y":{"field":"v","type":"quantitative","title":null}}},
  {"data":{"name":"m5"},"transform":[{"filter":"datum.d == 'd'"}],"mark":{"type":"point","shape":"triangle-down","filled":false,"size":100,"strokeWidth":1.2,"opacity":1,"color":"#23a3a3","yOffset":-6},"encoding":{"x":{"field":"f","type":"quantitative","title":null},"y":{"field":"v","type":"quantitative","title":null}}},
  {"data":{"name":"m5"},"transform":[{"filter":"datum.d == 'u' && datum.n != ''"}],"mark":{"type":"text","color":"#23a3a3","dy":23},"encoding":{"x":{"field":"f","type":"quantitative","title":null},"y":{"field":"v","type":"quantitative","title":null},"text":{"field":"n"}}},
  {"data":{"name":"m5"},"transform":[{"filter":"datum.d == 'd' && datum.n != ''"}],"mark":{"type":"text","color":"#23a3a3","dy":-20},"encoding":{"x":{"field":"f","type":"quantitative","title":null},"y":{"field":"v","type":"quantitative","title":null},"text":{"field":"n"}}},
  {"data":{"name":"m5b"},"mark":{"type":"point","shape":"triangle-down","filled":false,"size":100,"strokeWidth":1.2,"opacity":1,"color":"#ff00ff","yOffset":-6},"encoding":{"x":{"field":"f","type":"quantitative","title":null},"y":{"field":"v","type":"quantitative","title":null}}},
  {"data":{"name":"m5b"},"mark":{"type":"text","color":"#ff00ff","dy":-20},"encoding":{"x":{"field":"f","type":"quantitative","title":null},"y":{"field":"v","type":"quantitative","title":null},"text":{"field":"n"}}},
  {"data":{"name":"tb5a"},"mark":{"type":"text","color":"#23a3a3","align":"right","baseline":"top","lineBreak":"\n","lineHeight":18.75},"encoding":{"x":{"datum":8.2017},"y":{"datum":49.144},"text":{"field":"c1"}}},
  {"data":{"name":"tb5a"},"mark":{"type":"text","color":"#23a3a3","align":"right","baseline":"top","lineBreak":"\n","lineHeight":18.75},"encoding":{"x":{"datum":8.4742},"y":{"datum":49.144},"text":{"field":"c2"}}},
  {"data":{"name":"tb5a"},"mark":{"type":"text","color":"#23a3a3","align":"right","baseline":"top","lineBreak":"\n","lineHeight":18.75},"encoding":{"x":{"datum":8.6939},"y":{"datum":49.144},"text":{"field":"c3"}}},
  {"data":{"name":"tb5b"},"mark":{"type":"text","color":"#ff00ff","align":"right","baseline":"top"},"encoding":{"x":{"datum":8.2017},"y":{"datum":12.568},"text":{"field":"c1"}}},
  {"data":{"name":"tb5b"},"mark":{"type":"text","color":"#ff00ff","align":"right","baseline":"top"},"encoding":{"x":{"datum":8.4742},"y":{"datum":12.568},"text":{"field":"c2"}}},
  {"data":{"name":"tb5b"},"mark":{"type":"text","color":"#ff00ff","align":"right","baseline":"top"},"encoding":{"x":{"datum":8.6939},"y":{"datum":12.568},"text":{"field":"c3"}}},
  {"data":{"name":"i5"},"mark":{"type":"text","color":"#23a3a3","align":"left","baseline":"middle"},"encoding":{"x":{"datum":7.5},"y":{"datum":54.397},"text":{"field":"title"}}},
  {"data":{"name":"i5"},"mark":{"type":"text","color":"#ff00ff","align":"left","baseline":"middle"},"encoding":{"x":{"datum":8.1101},"y":{"datum":54.397},"text":{"field":"title2"}}},
  {"data":{"name":"i5"},"mark":{"type":"text","align":"left","baseline":"middle"},"encoding":{"x":{"datum":7.5128},"y":{"datum":-46.77},"text":{"field":"note"}}},
  {"data":{"values":[{}]},"mark":{"type":"rect","color":"#c8c8c8"},"encoding":{"x":{"datum":7.3559},"x2":{"datum":7.3942},"y":{"datum":-51.167},"y2":{"datum":-57.782}}},
  {"data":{"name":"i5"},"mark":{"type":"text","align":"center","baseline":"middle"},"encoding":{"x":{"datum":7.375},"y":{"datum":-55.175},"text":{"field":"badge"}}},
  {"data":{"name":"i5"},"mark":{"type":"text","align":"left","baseline":"middle"},"encoding":{"x":{"datum":7.4527},"y":{"datum":-55.175},"text":{"field":"ch"}}},
  {"data":{"name":"i5"},"mark":{"type":"text","align":"left","baseline":"middle"},"encoding":{"x":{"datum":7.6328},"y":{"datum":-55.175},"text":{"field":"start"}}},
  {"data":{"name":"i5"},"mark":{"type":"text","align":"center","baseline":"middle","color":"#23a3a3","fontWeight":"bold"},"encoding":{"x":{"datum":7.9525},"y":{"datum":-55.175},"text":{"field":"dash"}}},
  {"data":{"name":"i5"},"mark":{"type":"text","align":"center","baseline":"middle","color":"#ff00ff","fontWeight":"bold"},"encoding":{"x":{"datum":7.9953},"y":{"datum":-55.175},"text":{"field":"dash"}}},
  {"data":{"name":"i5"},"mark":{"type":"text","align":"right","baseline":"middle"},"encoding":{"x":{"datum":8.7},"y":{"datum":-55.175},"text":{"field":"stop"}}}
 ]}
]},
{"spacing": 14, "vconcat": [
 {"spacing": 11, "hconcat": [
  {"width": 533, "height": 257, "layer": [
   {"data":{"values":[{}]},"mark":{"type":"rect","color":"#ffffff","stroke":"#a4a4a4","strokeWidth":2},"encoding":{"x":{"datum":7.32439,"type":"quantitative","scale":{"domain":[7.5,8.7],"nice":false,"zero":false}},"x2":{"datum":8.718},"y":{"datum":2.67428,"type":"quantitative","scale":{"domain":[-0.03,2.47],"nice":false,"zero":false},"axis":{"title":null,"zindex":1,"tickCount":30,"labelOverlap":false,"values":[-0.03,0.22,0.47,0.72,0.97,1.22,1.47,1.72,1.97,2.22,2.47],"labelExpr":"replace(format(datum.value,'.2f'),'\u2212','-')"}},"y2":{"datum":-0.26346}}},
   {"data":{"name":"gxn"},"mark":"rule","encoding":{"x":{"field":"g","type":"quantitative","title":null}}},
   {"data":{"name":"gy6"},"mark":"rule","encoding":{"y":{"field":"g","type":"quantitative","title":null}}},
   {"data":{"name":"t6"},"mark":{"type":"line","color":"#b38b2d","strokeWidth":1.2},"encoding":{"x":{"field":"f","type":"quantitative","title":null},"y":{"field":"v","type":"quantitative","title":null}}},
   {"data":{"name":"r6"},"mark":{"type":"point","filled":true,"size":30,"opacity":1,"color":"#b38b2d"},"encoding":{"x":{"field":"f","type":"quantitative","title":null},"y":{"field":"v","type":"quantitative","title":null},"shape":{"field":"s","type":"nominal","scale":{"domain":["L","R"],"range":["triangle-right","triangle-left"]},"legend":null}}},
   {"data":{"name":"m6"},"transform":[{"filter":"datum.d == 'u'"}],"mark":{"type":"point","shape":"triangle-up","filled":false,"size":100,"strokeWidth":1.2,"opacity":1,"color":"#b38b2d","yOffset":7},"encoding":{"x":{"field":"f","type":"quantitative","title":null},"y":{"field":"v","type":"quantitative","title":null}}},
   {"data":{"name":"m6"},"transform":[{"filter":"datum.d == 'd'"}],"mark":{"type":"point","shape":"triangle-down","filled":false,"size":100,"strokeWidth":1.2,"opacity":1,"color":"#b38b2d","yOffset":-6},"encoding":{"x":{"field":"f","type":"quantitative","title":null},"y":{"field":"v","type":"quantitative","title":null}}},
   {"data":{"name":"m6"},"transform":[{"filter":"datum.d == 'u' && datum.n != ''"}],"mark":{"type":"text","color":"#b38b2d","dy":23},"encoding":{"x":{"field":"f","type":"quantitative","title":null},"y":{"field":"v","type":"quantitative","title":null},"text":{"field":"n"}}},
   {"data":{"name":"m6"},"transform":[{"filter":"datum.d == 'd' && datum.n != ''"}],"mark":{"type":"text","color":"#b38b2d","dy":-20},"encoding":{"x":{"field":"f","type":"quantitative","title":null},"y":{"field":"v","type":"quantitative","title":null},"text":{"field":"n"}}},
   {"data":{"name":"tb6"},"mark":{"type":"text","color":"#b38b2d","align":"right","baseline":"top","lineBreak":"\n","lineHeight":18.75},"encoding":{"x":{"datum":8.2024},"y":{"datum":2.4457},"text":{"field":"c1"}}},
   {"data":{"name":"tb6"},"mark":{"type":"text","color":"#b38b2d","align":"right","baseline":"top","lineBreak":"\n","lineHeight":18.75},"encoding":{"x":{"datum":8.4784},"y":{"datum":2.4457},"text":{"field":"c2"}}},
   {"data":{"name":"tb6"},"mark":{"type":"text","color":"#b38b2d","align":"right","baseline":"top","lineBreak":"\n","lineHeight":18.75},"encoding":{"x":{"datum":8.6966},"y":{"datum":2.4457},"text":{"field":"c3"}}},
   {"data":{"name":"i6"},"mark":{"type":"text","color":"#b38b2d","align":"left","baseline":"middle"},"encoding":{"x":{"datum":7.5},"y":{"datum":2.577},"text":{"field":"title"}}},
   {"data":{"name":"i6"},"mark":{"type":"text","align":"left","baseline":"middle"},"encoding":{"x":{"datum":7.5142},"y":{"datum":0.0546},"text":{"field":"note"}}},
   {"data":{"values":[{}]},"mark":{"type":"rect","color":"#c8c8c8"},"encoding":{"x":{"datum":7.3582},"x2":{"datum":7.3953},"y":{"datum":-0.0689},"y2":{"datum":-0.2246}}},
   {"data":{"name":"i6"},"mark":{"type":"text","align":"center","baseline":"middle"},"encoding":{"x":{"datum":7.3768},"y":{"datum":-0.1633},"text":{"field":"badge"}}},
   {"data":{"name":"i6"},"mark":{"type":"text","align":"left","baseline":"middle"},"encoding":{"x":{"datum":7.4527},"y":{"datum":-0.1633},"text":{"field":"ch"}}},
   {"data":{"name":"i6"},"mark":{"type":"text","align":"left","baseline":"middle"},"encoding":{"x":{"datum":7.6553},"y":{"datum":-0.1633},"text":{"field":"start"}}},
   {"data":{"name":"i6"},"mark":{"type":"text","align":"center","baseline":"middle","color":"#b38b2d","fontWeight":"bold"},"encoding":{"x":{"datum":7.9728},"y":{"datum":-0.1633},"text":{"field":"dash"}}},
   {"data":{"name":"i6"},"mark":{"type":"text","align":"right","baseline":"middle"},"encoding":{"x":{"datum":8.7},"y":{"datum":-0.1633},"text":{"field":"stop"}}}
  ]},
  {"width": 533, "height": 257, "layer": [
   {"data":{"values":[{}]},"mark":{"type":"rect","color":"#ffffff","stroke":"#a4a4a4","strokeWidth":2},"encoding":{"x":{"datum":5.44465,"type":"quantitative","scale":{"domain":[6,10],"nice":false,"zero":false}},"x2":{"datum":10.04503},"y":{"datum":58.1712,"type":"quantitative","scale":{"domain":[-50,50],"nice":false,"zero":false},"axis":{"title":null,"zindex":1,"tickCount":30,"labelOverlap":false,"values":[-50,-40,-30,-20,-10,0,10,20,30,40,50],"labelExpr":"replace(format(datum.value,'.2f'),'\u2212','-')"}},"y2":{"datum":-59.339}}},
   {"data":{"name":"gxw"},"mark":"rule","encoding":{"x":{"field":"g","type":"quantitative","title":null}}},
   {"data":{"name":"gy50"},"mark":"rule","encoding":{"y":{"field":"g","type":"quantitative","title":null}}},
   {"data":{"name":"t7"},"mark":{"type":"line","color":"#b38b2d"},"encoding":{"x":{"field":"f","type":"quantitative","title":null},"y":{"field":"v","type":"quantitative","title":null}}},
   {"data":{"name":"r7"},"mark":{"type":"point","filled":true,"size":30,"opacity":1,"color":"#b38b2d"},"encoding":{"x":{"field":"f","type":"quantitative","title":null},"y":{"field":"v","type":"quantitative","title":null},"shape":{"field":"s","type":"nominal","scale":{"domain":["L","R"],"range":["triangle-right","triangle-left"]},"legend":null}}},
   {"data":{"name":"m7"},"transform":[{"filter":"datum.d == 'u'"}],"mark":{"type":"point","shape":"triangle-up","filled":false,"size":100,"strokeWidth":1.2,"opacity":1,"color":"#b38b2d","yOffset":7},"encoding":{"x":{"field":"f","type":"quantitative","title":null},"y":{"field":"v","type":"quantitative","title":null}}},
   {"data":{"name":"m7"},"transform":[{"filter":"datum.d == 'd'"}],"mark":{"type":"point","shape":"triangle-down","filled":false,"size":100,"strokeWidth":1.2,"opacity":1,"color":"#b38b2d","yOffset":-6},"encoding":{"x":{"field":"f","type":"quantitative","title":null},"y":{"field":"v","type":"quantitative","title":null}}},
   {"data":{"name":"m7"},"transform":[{"filter":"datum.d == 'u' && datum.n != ''"}],"mark":{"type":"text","color":"#b38b2d","dy":23},"encoding":{"x":{"field":"f","type":"quantitative","title":null},"y":{"field":"v","type":"quantitative","title":null},"text":{"field":"n"}}},
   {"data":{"name":"m7"},"transform":[{"filter":"datum.d == 'd' && datum.n != ''"}],"mark":{"type":"text","color":"#b38b2d","dy":-20},"encoding":{"x":{"field":"f","type":"quantitative","title":null},"y":{"field":"v","type":"quantitative","title":null},"text":{"field":"n"}}},
   {"data":{"name":"tb7"},"mark":{"type":"text","color":"#b38b2d","align":"right","baseline":"top","lineBreak":"\n","lineHeight":18.75},"encoding":{"x":{"datum":8.3392},"y":{"datum":49.027},"text":{"field":"c1"}}},
   {"data":{"name":"tb7"},"mark":{"type":"text","color":"#b38b2d","align":"right","baseline":"top","lineBreak":"\n","lineHeight":18.75},"encoding":{"x":{"datum":9.2473},"y":{"datum":49.027},"text":{"field":"c2"}}},
   {"data":{"name":"tb7"},"mark":{"type":"text","color":"#b38b2d","align":"right","baseline":"top","lineBreak":"\n","lineHeight":18.75},"encoding":{"x":{"datum":9.9722},"y":{"datum":49.027},"text":{"field":"c3"}}},
   {"data":{"name":"i7"},"mark":{"type":"text","color":"#b38b2d","align":"left","baseline":"middle"},"encoding":{"x":{"datum":6},"y":{"datum":54.28},"text":{"field":"title"}}},
   {"data":{"values":[{}]},"mark":{"type":"rect","color":"#c8c8c8"},"encoding":{"x":{"datum":5.5197},"x2":{"datum":5.6473},"y":{"datum":-51.556},"y2":{"datum":-57.782}}},
   {"data":{"name":"i7"},"mark":{"type":"text","align":"center","baseline":"middle"},"encoding":{"x":{"datum":5.5835},"y":{"datum":-55.331},"text":{"field":"badge"}}},
   {"data":{"name":"i7"},"mark":{"type":"text","align":"left","baseline":"middle"},"encoding":{"x":{"datum":5.8424},"y":{"datum":-55.331},"text":{"field":"ch"}}},
   {"data":{"name":"i7"},"mark":{"type":"text","align":"left","baseline":"middle"},"encoding":{"x":{"datum":6.1801},"y":{"datum":-55.331},"text":{"field":"start"}}},
   {"data":{"name":"i7"},"mark":{"type":"text","align":"center","baseline":"middle","color":"#b38b2d","fontWeight":"bold"},"encoding":{"x":{"datum":7.2533},"y":{"datum":-55.331},"text":{"field":"dash"}}},
   {"data":{"name":"i7"},"mark":{"type":"text","align":"right","baseline":"middle"},"encoding":{"x":{"datum":10},"y":{"datum":-55.331},"text":{"field":"stop"}}}
  ]}
 ]},
 {"width": 1178, "height": 34, "layer": [
  {"data":{"values":[{}]},"mark":{"type":"rect","color":"#d4d0c8"},"encoding":{"x":{"datum":-6.706,"type":"quantitative","scale":{"domain":[0,100],"nice":false,"zero":false},"title":null},"x2":{"datum":100},"y":{"datum":100,"type":"quantitative","scale":{"domain":[0,100],"nice":false,"zero":false},"axis":null},"y2":{"datum":0}}},
  {"data":{"values":[{}]},"mark":{"type":"rect","fillOpacity":0,"stroke":"#f2f200","strokeWidth":2.5},"encoding":{"x":{"datum":8.234},"x2":{"datum":26.231},"y":{"datum":82.35},"y2":{"datum":4}}},
  {"data":{"name":"st"},"mark":{"type":"text","align":"left","baseline":"middle","fontSize":21,"color":"#111111"},"encoding":{"x":{"datum":-5.348},"y":{"datum":38.2},"text":{"field":"a"}}},
  {"data":{"name":"st"},"mark":{"type":"text","align":"left","baseline":"middle","fontSize":21,"color":"#111111"},"encoding":{"x":{"datum":2.462},"y":{"datum":38.2},"text":{"field":"b"}}},
  {"data":{"name":"st"},"mark":{"type":"text","align":"left","baseline":"middle","fontSize":21,"color":"#111111"},"encoding":{"x":{"datum":8.659},"y":{"datum":38.2},"text":{"field":"c"}}},
  {"data":{"name":"st"},"mark":{"type":"text","align":"left","baseline":"middle","fontSize":21,"color":"#111111"},"encoding":{"x":{"datum":26.91},"y":{"datum":38.2},"text":{"field":"d"}}},
  {"data":{"name":"st"},"mark":{"type":"text","align":"left","baseline":"middle","fontSize":21,"color":"#111111"},"encoding":{"x":{"datum":46.01},"y":{"datum":38.2},"text":{"field":"e"}}}
 ]}
]}
]
}
